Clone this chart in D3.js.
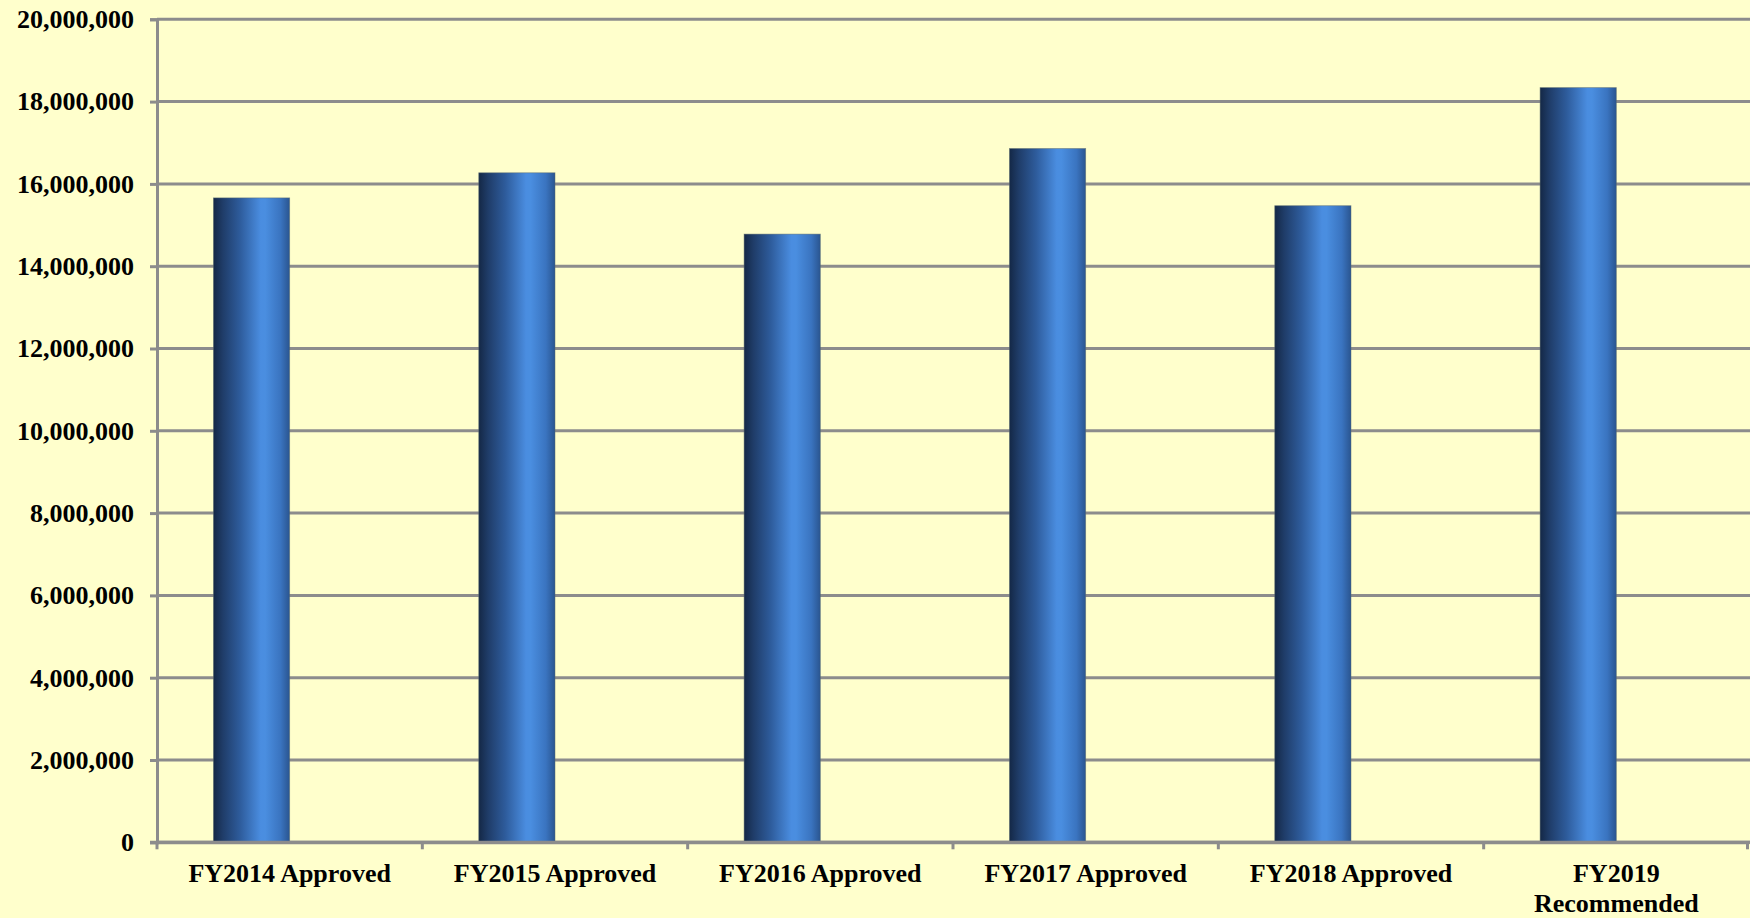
<!DOCTYPE html>
<html>
<head>
<meta charset="utf-8">
<script src="https://cdn.jsdelivr.net/npm/d3@7"></script>
<style>
  html, body { margin: 0; padding: 0; background: #FFFFCC; }
  svg { display: block; }
  text { font-family: "Liberation Serif", "Times New Roman", serif; font-weight: bold; fill: #000; }
</style>
</head>
<body>
<svg id="chart" width="1750" height="918"></svg>
<script>
const categories = ["FY2014 Approved", "FY2015 Approved", "FY2016 Approved", "FY2017 Approved", "FY2018 Approved", "FY2019\nRecommended"];
const values = [15660000, 16270000, 14780000, 16860000, 15470000, 18340000];
const yTicks = [0, 2000000, 4000000, 6000000, 8000000, 10000000, 12000000, 14000000, 16000000, 18000000, 20000000];

const W = 1750, H = 918;
const margin = { left: 157, right: 1, top: 19.3, bottom: 918 - 842.3 };
const svg = d3.select("#chart");

const x = d3.scaleBand().domain(categories).range([margin.left, W - margin.right]).paddingInner(0).paddingOuter(0);
// two-series cluster per category; only the first series carries data
const xSub = d3.scaleBand().domain(["a", "b"]).range([0, x.bandwidth()]).paddingInner(0).paddingOuter(0.74);
const y = d3.scaleLinear().domain([0, 20000000]).range([H - margin.bottom, margin.top]);

const defs = svg.append("defs");
const grad = defs.append("linearGradient").attr("id", "barGrad").attr("x1", "0%").attr("x2", "100%").attr("y1", "0%").attr("y2", "0%");
[[0, "#142846"], [0.12, "#1f3c68"], [0.35, "#2e5c9c"], [0.62, "#4a8de0"], [0.68, "#4a8ee0"], [0.88, "#3a74c0"], [1, "#2a5590"]]
  .forEach(([o, c]) => grad.append("stop").attr("offset", o).attr("stop-color", c));

// gridlines
svg.append("g").selectAll("line").data(yTicks).join("line")
  .attr("x1", margin.left).attr("x2", W)
  .attr("y1", d => y(d)).attr("y2", d => y(d))
  .attr("stroke", "#8c8c8c").attr("stroke-width", 3);

// y axis
const yAxis = d3.axisLeft(y).tickValues(yTicks).tickSize(7).tickPadding(16).tickFormat(d3.format(","));
const gy = svg.append("g").attr("transform", `translate(${margin.left},0)`).call(yAxis);
gy.select(".domain").attr("stroke", "#8c8c8c").attr("stroke-width", 3);
gy.selectAll(".tick line").attr("stroke", "#8c8c8c").attr("stroke-width", 3);
gy.selectAll(".tick text").attr("font-size", 26).attr("font-family", "Liberation Serif, Times New Roman, serif").attr("font-weight", "bold").attr("fill", "#000");

// bars
svg.append("g").selectAll("rect").data(values).join("rect")
  .attr("x", (d, i) => x(categories[i]) + xSub("a"))
  .attr("width", xSub.bandwidth())
  .attr("y", d => y(d))
  .attr("height", d => y(0) - y(d))
  .attr("fill", "url(#barGrad)")
  .attr("stroke", "#5a6a70").attr("stroke-width", 0.8).attr("stroke-opacity", 0.6);

// x axis
const xAxis = d3.axisBottom(x).tickValues([]).tickSizeOuter(0);
const gx = svg.append("g").attr("transform", `translate(0,${y(0)})`).call(xAxis);
gx.select(".domain").attr("stroke", "#8c8c8c").attr("stroke-width", 3);
const boundaries = categories.map(c => x(c)).concat([x(categories[categories.length - 1]) + x.bandwidth() - 1.5]);
gx.selectAll("line.bt").data(boundaries).join("line").attr("class", "bt")
  .attr("x1", d => d).attr("x2", d => d).attr("y1", 0).attr("y2", 7)
  .attr("stroke", "#8c8c8c").attr("stroke-width", 3);
svg.append("line").attr("x1", margin.left - 7).attr("x2", W).attr("y1", y(0)).attr("y2", y(0))
  .attr("stroke", "#8c8c8c").attr("stroke-width", 3);

// x labels
const lbl = svg.append("g").selectAll("text").data(categories).join("text")
  .attr("x", d => x(d) + x.bandwidth() / 2)
  .attr("y", 881.7)
  .attr("text-anchor", "middle")
  .attr("font-size", 26);
lbl.each(function(d) {
  const t = d3.select(this);
  d.split("\n").forEach((s, i) => t.append("tspan").attr("x", x(d) + x.bandwidth() / 2).attr("dy", i === 0 ? 0 : 30).text(s));
});
</script>
</body>
</html>
